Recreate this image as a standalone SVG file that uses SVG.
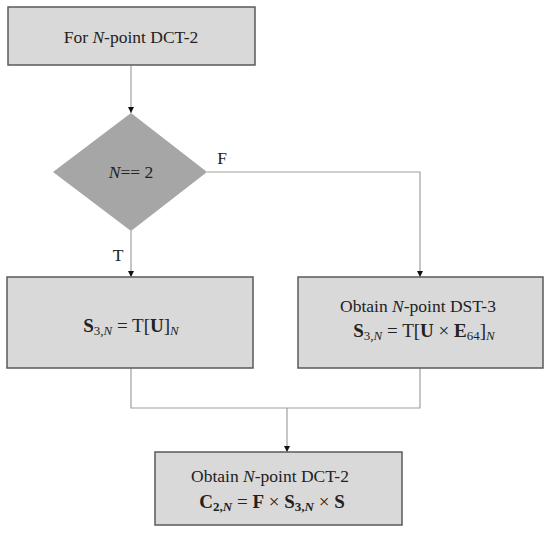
<svg xmlns="http://www.w3.org/2000/svg" width="550" height="540" viewBox="0 0 550 540">
<style>
.box{fill:#d9d9d9;stroke:#595959;stroke-width:1.5}
.dia{fill:#a6a6a6;stroke:none}
text{font-family:'Liberation Serif','Times New Roman',Times,serif;fill:#222;text-anchor:middle}
.t{font-size:17.5px}
.m{font-size:19px}
.b{font-weight:bold}
.i{font-style:italic}
.s{font-size:13px}
.c{fill:none;stroke:#a0a0a0;stroke-width:1.2}
</style>
<defs>
<marker id="ah" viewBox="0 0 10 10" refX="10" refY="5" markerWidth="6" markerHeight="6" orient="auto" markerUnits="userSpaceOnUse">
<path d="M0,0 L10,5 L0,10 z" fill="#111"/>
</marker>
</defs>
<rect width="550" height="540" fill="#fff"/>
<g id="connectors">
<path class="c" d="M131,65 V113" marker-end="url(#ah)"/>
<path class="c" d="M131,231 V277" marker-end="url(#ah)"/>
<path class="c" d="M207,172 H420 V277" marker-end="url(#ah)"/>
<path class="c" d="M131,368 V408 H420 V368"/>
<path class="c" d="M287,408 V452" marker-end="url(#ah)"/>
<text class="t" x="222" y="164">F</text>
<text class="t" x="118" y="261">T</text>
</g>
<g id="start">
<rect class="box" x="8" y="7" width="247" height="58"/>
<text class="t" x="131" y="43">For <tspan class="i">N</tspan>-point DCT-2</text>
</g>
<g id="decision">
<polygon class="dia" points="131,113 207,172 131,231 53,172"/>
<text class="t" x="131" y="178"><tspan class="i">N</tspan>== 2</text>
</g>
<g id="dst3-n2">
<rect class="box" x="7" y="277" width="246" height="91"/>
<text class="m" x="131" y="332"><tspan class="b">S</tspan><tspan class="s" dy="3">3,</tspan><tspan class="s i">N</tspan><tspan dy="-3"> = T[</tspan><tspan class="b">U</tspan><tspan>]</tspan><tspan class="s i" dy="3">N</tspan></text>
</g>
<g id="dst3">
<rect class="box" x="298" y="277" width="245" height="91"/>
<text class="t" x="418" y="312">Obtain <tspan class="i">N</tspan>-point DST-3</text>
<text class="m" x="424" y="337"><tspan class="b">S</tspan><tspan class="s" dy="3">3,</tspan><tspan class="s i">N</tspan><tspan dy="-3"> = T[</tspan><tspan class="b">U</tspan><tspan> × </tspan><tspan class="b">E</tspan><tspan class="s" dy="3">64</tspan><tspan dy="-3">]</tspan><tspan class="s i" dy="3">N</tspan></text>
</g>
<g id="dct2">
<rect class="box" x="155" y="452" width="247" height="73"/>
<text class="t" x="270" y="482">Obtain <tspan class="i">N</tspan>-point DCT-2</text>
<text class="m" x="272" y="508"><tspan class="b">C</tspan><tspan class="s b" dy="3">2,</tspan><tspan class="s b i">N</tspan><tspan dy="-3"> = </tspan><tspan class="b">F</tspan><tspan> × </tspan><tspan class="b">S</tspan><tspan class="s b" dy="3">3,</tspan><tspan class="s b i">N</tspan><tspan dy="-3"> × </tspan><tspan class="b">S</tspan></text>
</g>
</svg>
